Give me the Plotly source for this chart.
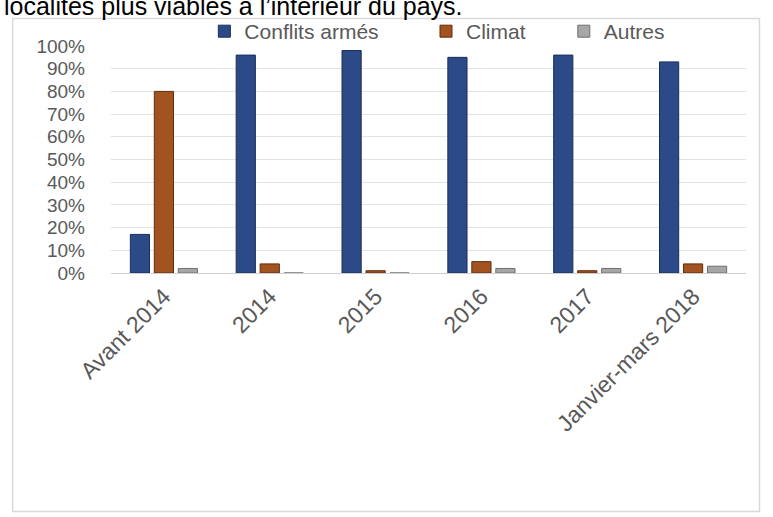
import plotly.graph_objects as go

categories = ["Avant 2014", "2014", "2015", "2016", "2017", "Janvier-mars 2018"]
conflits = [0.17, 0.96, 0.98, 0.95, 0.96, 0.93]
climat = [0.80, 0.04, 0.01, 0.05, 0.01, 0.04]
autres = [0.02, 0.0, 0.0, 0.02, 0.02, 0.03]
series_names = ["Conflits armés", "Climat", "Autres"]
y_ticks = [i / 10 for i in range(11)]
y_labels = [f"{i*10}%" for i in range(11)]

W, H = 773, 517
L, R, T, B = 110.5, 26.5, 45.5, 244
pw, ph = W - L - R, H - T - B

def px(x):
    return (x - L) / pw

def py(y):
    return (H - B - y) / ph

fig = go.Figure()
colors = ["#2C4A88", "#A3531F", "#A6A6A6"]
lines = ["#1B2E5A", "#5E2E10", "#707070"]
legend_ids = ["legend", "legend2", "legend3"]
for name, vals, c, lc, lg in zip(series_names, [conflits, climat, autres], colors, lines, legend_ids):
    fig.add_trace(go.Bar(x=categories, y=vals, name=name, legend=lg,
                         marker=dict(color=c, line=dict(color=lc, width=1))))

leg_common = dict(orientation="h", xanchor="left", yanchor="middle", y=py(31),
                  font=dict(size=21, color="#595959"), itemwidth=30,
                  bgcolor="rgba(0,0,0,0)")

fig.update_layout(
    width=W, height=H,
    margin=dict(l=L, r=R, t=T, b=B, autoexpand=False),
    paper_bgcolor="white", plot_bgcolor="white",
    font=dict(family="Liberation Sans, Arial, sans-serif", color="#595959", size=18),
    barmode="group", bargap=0.32, bargroupgap=0.2,
    showlegend=True,
    legend=dict(x=px(204), **leg_common),
    legend2=dict(x=px(426), **leg_common),
    legend3=dict(x=px(564), **leg_common),
    xaxis=dict(tickangle=-45, showgrid=False, showline=True, linecolor="#D0D0D0",
               ticks="", tickfont=dict(size=23, color="#595959")),
    yaxis=dict(range=[0, 1.0], tickvals=y_ticks, ticktext=y_labels,
               gridcolor="#E3E3E3", showline=False, zeroline=False,
               ticks="", ticklabelstandoff=25, tickfont=dict(size=19, color="#595959")),
)

fig.add_shape(type="rect", xref="paper", yref="paper",
              x0=px(12), x1=px(760), y0=py(512), y1=py(18),
              line=dict(color="#D9D9D9", width=1.5), fillcolor="rgba(0,0,0,0)", layer="below")

fig.add_annotation(text="localités plus viables à l’intérieur du pays.",
                   xref="paper", yref="paper", x=px(1), y=py(5),
                   xanchor="left", yanchor="middle", showarrow=False,
                   font=dict(size=25, color="#000000", family="Liberation Sans, Arial, sans-serif"))

fig.write_html("out.html", config={"displayModeBar": False},
               post_script="document.body.style.margin='0';document.body.style.padding='0';")
